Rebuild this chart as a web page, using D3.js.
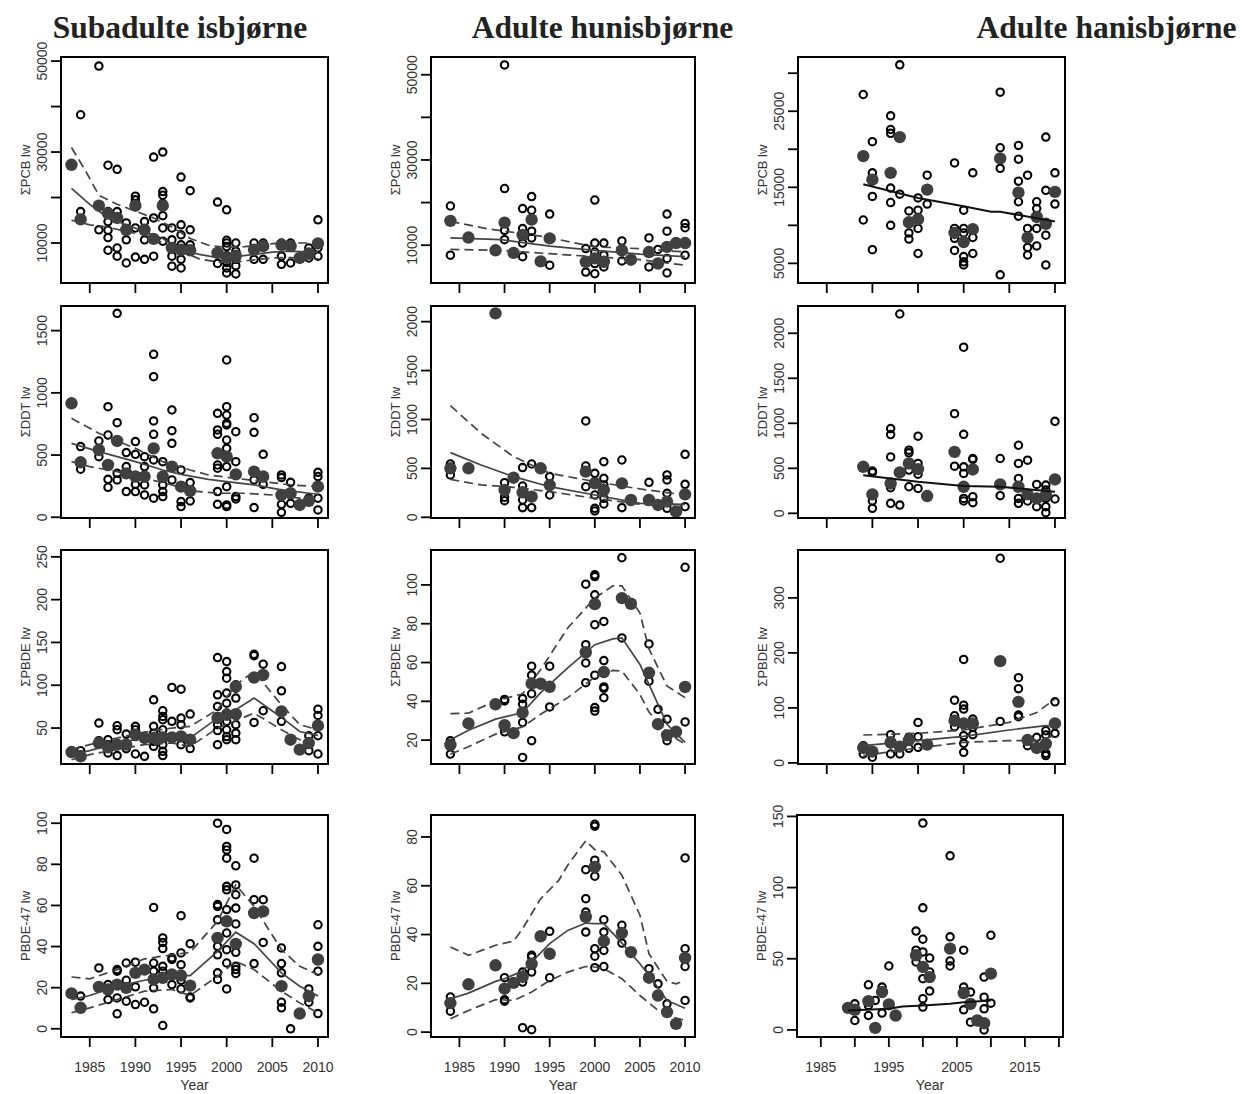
<!DOCTYPE html>
<html><head><meta charset="utf-8">
<script src="https://cdn.jsdelivr.net/npm/d3@7"></script>
<style>body{margin:0;background:#fff}svg{display:block}</style>
</head><body>
<svg id="c" width="1243" height="1094"></svg>
<script>
// ---------- column titles / axis labels ----------
const colTitles = ["Subadulte isbjørne", "Adulte hunisbjørne", "Adulte hanisbjørne"];
const rowLabels = ["ΣPCB lw", "ΣDDT lw", "ΣPBDE lw", "PBDE-47 lw"];
const xTickYears = [1985, 1990, 1995, 2000, 2005, 2010];
const xTickYearsWide = [1985, 1990, 1995, 2000, 2005, 2010, 2015, 2020];
const xLabelYearsWide = [1985, 1995, 2005, 2015];

// ---------- Row 1: ΣPCB ----------
const pcbSubOpen = [[1984,38200],[1984,16900],[1986,48900],[1986,12900],[1987,27100],[1987,16900],[1987,14700],[1987,12800],[1987,11200],[1987,8400],[1988,26200],[1988,16900],[1988,8900],[1988,7100],[1989,14400],[1989,10700],[1989,5600],[1990,20300],[1990,19500],[1990,13300],[1990,6900],[1991,14700],[1991,10700],[1991,6400],[1992,28900],[1992,15500],[1992,7100],[1993,30000],[1993,21300],[1993,20500],[1993,18700],[1993,16000],[1993,13300],[1993,10400],[1994,13300],[1994,10700],[1994,7100],[1994,4900],[1995,24500],[1995,14000],[1995,11800],[1995,9600],[1995,6400],[1995,4500],[1996,21500],[1996,12900],[1996,9600],[1996,8200],[1999,19000],[1999,8000],[1999,5500],[2000,17300],[2000,10600],[2000,10000],[2000,9200],[2000,7200],[2000,5700],[2000,4500],[2000,3400],[2001,10000],[2001,8200],[2001,6400],[2001,5000],[2001,3200],[2003,10000],[2003,8400],[2003,6400],[2004,10000],[2004,6400],[2006,10000],[2006,7100],[2006,5300],[2007,10000],[2007,5600],[2009,8900],[2009,6700],[2010,15100],[2010,8900],[2010,7100]];
const pcbSubFill = [[1983,27200],[1984,15200],[1986,18200],[1987,16500],[1988,15500],[1989,12900],[1990,18200],[1991,12900],[1992,10900],[1993,18200],[1994,8900],[1995,8500],[1996,8400],[1999,7800],[2000,6700],[2001,7200],[2003,8500],[2004,9300],[2006,9600],[2007,9300],[2008,6700],[2009,7700],[2010,9900]];
const pcbSubFit = [[1983,22000],[1985,18500],[1987,15500],[1989,14000],[1991,12500],[1993,11000],[1995,8500],[1997,7500],[1999,6800],[2001,7000],[2003,7500],[2005,8000],[2007,8200],[2009,8000],[2010,8000]];
const pcbSubUp = [[1983,31000],[1984.5,26000],[1986,20500],[1988,18500],[1990,17000],[1992,15500],[1994,13500],[1996,11000],[1998,9500],[2000,9000],[2002,9200],[2004,9700],[2006,10000],[2008,10000],[2010,10000]];
const pcbSubLo = [[1983,15000],[1985,14000],[1987,13500],[1989,12500],[1991,11800],[1993,10000],[1995,8200],[1997,6500],[1999,5800],[2001,5800],[2003,6300],[2005,6700],[2007,6800],[2009,6500],[2010,6500]];

const pcbFemOpen = [[1984,19200],[1984,7650],[1990,52300],[1990,23300],[1990,13500],[1990,11300],[1992,18600],[1992,13900],[1992,10500],[1992,7300],[1993,21400],[1993,18200],[1993,13300],[1993,11700],[1995,17300],[1995,5300],[1999,9200],[1999,6100],[1999,3700],[2000,20600],[2000,10500],[2000,8400],[2000,5700],[2000,3300],[2001,10500],[2001,7650],[2001,4900],[2003,11000],[2003,6300],[2006,11700],[2006,4900],[2007,9000],[2008,17300],[2008,13300],[2008,9600],[2008,6900],[2008,3500],[2010,15100],[2010,14100],[2010,7650]];
const pcbFemFill = [[1984,15700],[1986,11800],[1989,8800],[1990,15300],[1991,8200],[1992,12400],[1993,16000],[1994,6200],[1995,11600],[1999,6100],[2000,6900],[2001,6100],[2003,8800],[2004,6600],[2006,8400],[2007,5700],[2008,9600],[2009,10500],[2010,10500]];
const pcbFemFit = [[1984,11700],[1989.6,11300],[1995,9800],[2000,8800],[2005,7900],[2010,7300]];
const pcbFemUp = [[1984,15600],[1988,13900],[1994.4,12000],[2000,9600],[2005,9200],[2010,8400]];
const pcbFemLo = [[1984,9000],[1989.6,8800],[1995,8000],[2000,7300],[2005,6600],[2010,5300]];

const pcbMalOpen = [[1989,27200],[1989,10700],[1990,21000],[1990,16900],[1990,13800],[1990,6800],[1992,24400],[1992,22600],[1992,22100],[1992,14900],[1992,13000],[1992,10000],[1993,31100],[1993,14100],[1994,11900],[1994,9000],[1994,8200],[1995,13600],[1995,12000],[1995,9600],[1995,6300],[1996,16600],[1996,12800],[1999,18200],[1999,9600],[1999,8300],[1999,6700],[2000,12000],[2000,9600],[2000,9000],[2000,5900],[2000,5200],[2000,4800],[2001,16900],[2001,8400],[2001,6300],[2004,27500],[2004,20200],[2004,17500],[2004,3500],[2006,20500],[2006,18700],[2006,15800],[2006,13100],[2006,11200],[2007,16600],[2007,9600],[2007,7100],[2007,6100],[2008,13100],[2008,12200],[2008,9600],[2008,7300],[2009,21600],[2009,14600],[2009,8700],[2009,4800],[2010,16900],[2010,12800]];
const pcbMalFill = [[1989,19100],[1990,16000],[1992,16900],[1993,21600],[1994,10400],[1995,10800],[1996,14700],[1999,9000],[2000,7800],[2001,9500],[2004,18800],[2006,14300],[2007,8400],[2008,11100],[2009,10200],[2010,14400]];
const pcbMalFit = [[1989,15400],[1995,13600],[2000,12500],[2003,11800],[2004,11800],[2010,10500]];

// ---------- Row 2: ΣDDT ----------
const ddtSubOpen = [[1984,568],[1984,386],[1986,613],[1986,487],[1987,889],[1987,661],[1987,305],[1987,241],[1988,1639],[1988,760],[1988,353],[1988,300],[1989,520],[1989,407],[1989,206],[1990,608],[1990,506],[1990,265],[1990,206],[1991,487],[1991,407],[1991,260],[1991,179],[1992,1310],[1992,1130],[1992,774],[1992,667],[1992,461],[1992,153],[1993,447],[1993,313],[1993,260],[1993,206],[1993,166],[1994,862],[1994,696],[1994,594],[1994,300],[1995,380],[1995,126],[1995,86],[1996,279],[1996,131],[1999,835],[1999,702],[1999,667],[1999,420],[1999,394],[1999,206],[1999,104],[2000,1264],[2000,889],[2000,822],[2000,755],[2000,742],[2000,621],[2000,554],[2000,407],[2000,246],[2000,99],[2000,86],[2001,688],[2001,447],[2001,166],[2001,147],[2003,800],[2003,683],[2003,300],[2003,78],[2004,506],[2004,265],[2006,340],[2006,319],[2006,104],[2006,40],[2007,281],[2007,112],[2009,153],[2010,361],[2010,327],[2010,153],[2010,59]];
const ddtSubFill = [[1983,916],[1984,442],[1986,541],[1987,420],[1988,613],[1989,353],[1990,327],[1991,327],[1992,554],[1993,327],[1994,407],[1995,246],[1996,212],[1999,514],[2000,487],[2001,345],[2003,367],[2004,327],[2006,179],[2007,193],[2008,99],[2009,131],[2010,246]];
const ddtSubFit = [[1983,594],[1986,528],[1990,447],[1993,380],[1995,345],[1998,305],[2000,287],[2003,260],[2006,220],[2010,185]];
const ddtSubUp = [[1983,795],[1986,675],[1990,554],[1993,447],[1996,380],[1998,340],[2001,313],[2004,287],[2007,260],[2010,246]];
const ddtSubLo = [[1983,447],[1985,407],[1988,367],[1991,313],[1994,260],[1996,212],[1999,193],[2002,193],[2005,179],[2008,153],[2010,153]];

const ddtFemOpen = [[1984,545],[1984,433],[1990,354],[1990,204],[1990,170],[1992,508],[1992,320],[1992,177],[1992,99],[1993,545],[1993,99],[1995,416],[1995,228],[1999,985],[1999,525],[1999,474],[1999,313],[2000,450],[2000,365],[2000,228],[2000,92],[2000,65],[2001,569],[2001,399],[2001,331],[2001,194],[2001,136],[2003,586],[2003,99],[2006,358],[2008,433],[2008,382],[2008,245],[2008,92],[2010,644],[2010,337],[2010,109]];
const ddtFemFill = [[1984,501],[1986,501],[1989,2085],[1990,279],[1991,405],[1992,256],[1993,211],[1994,501],[1995,330],[1999,467],[2000,347],[2001,279],[2003,347],[2004,177],[2006,177],[2007,126],[2008,160],[2009,58],[2010,235]];
const ddtFemFit = [[1984,661],[1987.4,535],[1991,416],[1995,313],[2000,228],[2005,143],[2010,133]];
const ddtFemUp = [[1984,1141],[1987.4,859],[1991,620],[1995,450],[2000,365],[2005,290],[2010,228]];
const ddtFemLo = [[1984,388],[1987.4,331],[1991,307],[1995,262],[2000,194],[2005,133],[2010,109]];

const ddtMalOpen = [[1990,469],[1990,454],[1990,137],[1990,55],[1992,941],[1992,875],[1992,627],[1992,284],[1992,111],[1993,2214],[1993,92],[1994,701],[1994,672],[1994,480],[1994,295],[1995,856],[1995,554],[1995,435],[1995,277],[1999,1107],[1999,524],[2000,1845],[2000,878],[2000,517],[2000,443],[2000,166],[2000,137],[2001,609],[2001,598],[2001,185],[2001,118],[2004,609],[2004,196],[2006,756],[2006,554],[2006,387],[2006,166],[2006,111],[2007,590],[2007,137],[2008,321],[2008,74],[2009,314],[2009,258],[2009,166],[2009,74],[2009,7],[2010,1022],[2010,159]];
const ddtMalFill = [[1989,517],[1990,210],[1992,332],[1993,454],[1994,554],[1995,491],[1996,192],[1999,683],[2000,295],[2001,487],[2004,321],[2006,295],[2007,210],[2008,166],[2009,203],[2010,376]];
const ddtMalFit = [[1989,424],[1995,350],[2000,303],[2004,295],[2010,240]];

// ---------- Row 3: ΣPBDE ----------
const pbdeSubOpen = [[1984,23.6],[1984,18.9],[1986,55.8],[1986,35.2],[1987,36.4],[1987,30.6],[1987,20.9],[1988,52.7],[1988,48.1],[1988,17.8],[1989,43],[1989,32.5],[1989,25.9],[1990,52],[1990,48],[1990,40],[1990,19.7],[1991,40],[1991,17],[1992,83],[1992,52],[1992,44],[1992,34.5],[1992,28.6],[1993,70.2],[1993,63.6],[1993,59.7],[1993,48],[1993,38],[1993,30.6],[1993,22.8],[1993,17.8],[1994,97.4],[1994,57.8],[1994,38],[1995,95.4],[1995,61.6],[1995,53.9],[1995,30.6],[1996,66.3],[1996,26],[1999,132.3],[1999,88.8],[1999,75.2],[1999,63.6],[1999,53.9],[1999,47],[1999,30.6],[2000,127.7],[2000,116],[2000,108.2],[2000,90.8],[2000,79],[2000,67.5],[2000,57.8],[2000,48],[2000,40],[2000,36.4],[2001,100.5],[2001,96.6],[2001,85],[2001,65.5],[2001,53.9],[2001,44],[2001,36.4],[2003,136.2],[2003,134.6],[2003,56.6],[2004,124.6],[2004,70.2],[2006,121.8],[2006,93.5],[2006,57.8],[2009,41],[2009,23.6],[2010,72],[2010,64.8],[2010,41],[2010,19.7]];
const pbdeSubFill = [[1983,22],[1984,17],[1986,32.5],[1987,27.5],[1988,30.6],[1989,30.6],[1990,42.2],[1991,38.4],[1992,38.4],[1993,39.1],[1994,39.1],[1995,40.3],[1996,36.4],[1999,61.6],[2000,65.5],[2001,66.3],[2001,98.5],[2003,109],[2004,112],[2006,69.4],[2007,36.4],[2008,24.8],[2009,32.5],[2010,52.7]];
const pbdeSubFit = [[1983,19],[1985,23.6],[1988,32.5],[1991,38.4],[1994,40.3],[1996,38.4],[1999,61.6],[2001,71.4],[2003,85],[2006,62.4],[2008,46],[2010,41.5]];
const pbdeSubUp = [[1983,25],[1985,30.6],[1988,38.4],[1991,45.3],[1994,50],[1996,52],[1999,71.4],[2001,100.5],[2003,116],[2006,77],[2008,54],[2010,48]];
const pbdeSubLo = [[1983,13],[1985,19],[1988,25],[1991,30.6],[1994,32.5],[1996,28.6],[1999,50],[2001,58.5],[2003,67.5],[2006,48],[2008,36.4],[2010,31.4]];

const pbdeFemOpen = [[1984,19.7],[1984,17.1],[1984,12.8],[1990,41],[1990,40.2],[1990,24.3],[1992,41.4],[1992,38.5],[1992,29.1],[1992,11.1],[1993,58.1],[1993,53.5],[1993,43.9],[1993,19.7],[1995,58.1],[1995,37.1],[1999,100.4],[1999,69.2],[1999,59.8],[1999,49.6],[2000,105.2],[2000,104.3],[2000,94.9],[2000,79.5],[2000,53.5],[2000,36.8],[2000,35],[2001,81.2],[2001,61],[2001,47.4],[2001,46.7],[2001,41.9],[2003,114],[2003,72.7],[2006,69.6],[2006,50.4],[2007,35.9],[2008,30.8],[2008,19.7],[2010,109.1],[2010,29.4]];
const pbdeFemFill = [[1984,17.6],[1986,28.6],[1989,38.5],[1990,27.7],[1991,23.6],[1992,34.2],[1993,49.1],[1994,49.1],[1995,47.5],[1999,65.3],[2000,90.1],[2001,55.1],[2003,93.2],[2004,90.3],[2006,54.7],[2007,28.2],[2008,22.6],[2009,24.3],[2010,47.4]];
const pbdeFemFit = [[1984,20.2],[1986,25.1],[1989,30.8],[1992,34.2],[1994,44.5],[1997,57.3],[2000,69.2],[2002,72.2],[2003,72.7],[2005,59],[2006,48.7],[2008,28.2],[2010,18.8]];
const pbdeFemUp = [[1984,33.7],[1986,33.9],[1989,40.2],[1992,43.9],[1994,56.4],[1997,77.8],[2000,93.2],[2002,99.5],[2003,99.5],[2005,85.5],[2006,67],[2008,47.9],[2010,41.9]];
const pbdeFemLo = [[1984,12.8],[1986,16.6],[1989,23.1],[1992,26.8],[1994,33.3],[1997,41.9],[2000,52.5],[2002,55.9],[2003,55.6],[2005,43.6],[2006,34.5],[2008,23.9],[2010,17.9]];

const pbdeMalOpen = [[1989,31.4],[1989,16.3],[1990,10.3],[1992,51.3],[1992,34.4],[1992,16.3],[1993,16.3],[1994,46.5],[1994,26.6],[1995,73.6],[1995,47.7],[1995,28.4],[1999,114],[1999,85.7],[1999,65.8],[2000,188],[2000,105],[2000,97.8],[2000,49.5],[2000,35.6],[2000,19.3],[2001,79.7],[2001,64.6],[2001,51.3],[2004,372],[2004,75.4],[2006,155],[2006,135],[2006,86.9],[2006,83.9],[2007,31.4],[2008,46.5],[2008,28.4],[2009,58.5],[2009,50.7],[2009,17.5],[2009,13.3],[2010,111],[2010,53.7]];
const pbdeMalFill = [[1989,27.2],[1990,20.5],[1992,37.4],[1993,29.6],[1994,41.6],[1996,33.2],[1999,76.7],[2000,71.8],[2001,71.8],[2004,185],[2006,111],[2007,41.6],[2008,27.2],[2009,34.4],[2010,71.8]];
const pbdeMalFit = [[1989,31.4],[1995,40.4],[2000,48.3],[2005,59.8],[2009,67.6],[2010,67.6]];
const pbdeMalUp = [[1989,50.7],[1995,53.7],[2000,59.8],[2005,73.6],[2008,91.7],[2010,116]];
const pbdeMalLo = [[1989,13.3],[1995,27.2],[2000,37.4],[2005,40.4],[2008,40.4],[2010,49.5]];

// ---------- Row 4: PBDE-47 ----------
const bde47SubOpen = [[1984,15.9],[1986,29.6],[1987,21.5],[1987,14.2],[1988,28.8],[1988,28],[1988,15],[1988,7.3],[1989,32],[1989,23.6],[1989,13.4],[1990,32.4],[1990,20.4],[1990,11.8],[1991,28.8],[1991,12.9],[1992,59],[1992,32],[1992,28],[1992,19.9],[1992,9.7],[1993,44.2],[1993,42],[1993,39],[1993,30.4],[1993,28],[1993,1.6],[1994,34.5],[1994,33.7],[1994,21.5],[1995,55],[1995,36.9],[1995,31.2],[1995,23.6],[1995,19.4],[1996,41.4],[1996,15.4],[1996,15],[1999,100],[1999,60.4],[1999,59.5],[1999,53],[1999,40.1],[1999,36],[1999,27.2],[1999,24],[2000,97],[2000,88.7],[2000,87],[2000,83],[2000,69.3],[2000,67.6],[2000,58],[2000,46.6],[2000,38.5],[2000,32],[2000,19.4],[2001,79.3],[2001,70],[2001,65.2],[2001,58.7],[2001,51],[2001,37.2],[2001,30.4],[2001,28.8],[2001,26.9],[2003,83],[2003,62.8],[2003,31.7],[2004,62.8],[2004,42],[2006,39.3],[2006,31.7],[2006,27.2],[2006,12.9],[2006,10.2],[2007,0],[2009,19.4],[2009,12.9],[2010,50.6],[2010,40.1],[2010,28],[2010,7.4]];
const bde47SubFill = [[1983,17.2],[1984,10.2],[1986,20.4],[1987,19.1],[1988,21.5],[1989,19.9],[1990,27.2],[1991,28.8],[1992,24],[1993,24.8],[1994,26.4],[1995,25.9],[1996,21],[1999,44.2],[2000,52.3],[2001,41.3],[2003,56.3],[2004,57.1],[2006,20.7],[2008,7.4],[2009,15.9],[2010,33.7]];
const bde47SubFit = [[1983,14.2],[1985,16.2],[1988,20.7],[1991,23.6],[1994,25.9],[1996,25.9],[1999,37.7],[2001,47],[2003,41.4],[2006,27.2],[2008,20.7],[2010,15.9]];
const bde47SubUp = [[1983,25.2],[1985,24.3],[1988,28.8],[1991,34],[1994,36],[1996,37.2],[1999,52.3],[2001,70],[2003,59.5],[2006,38.5],[2008,30.4],[2010,26.4]];
const bde47SubLo = [[1983,7.8],[1985,10.2],[1988,14.2],[1991,18.3],[1994,19.1],[1996,16.2],[1999,25.6],[2001,32.8],[2003,28.8],[2006,18.3],[2008,12.6],[2010,7.8]];

const bde47FemOpen = [[1984,14.4],[1984,8.6],[1990,22.3],[1990,13.3],[1990,12.7],[1992,24.6],[1992,20.5],[1992,1.8],[1993,31.5],[1993,30.8],[1993,24.6],[1993,1],[1995,41.3],[1995,22.3],[1999,66.6],[1999,54.7],[1999,49.2],[1999,47.5],[1999,41],[2000,85.2],[2000,84.4],[2000,70.5],[2000,67.7],[2000,63.9],[2000,34.2],[2000,31.1],[2000,26.4],[2001,46.1],[2001,41],[2001,33.5],[2001,26.9],[2003,43.8],[2003,36.5],[2006,26],[2007,19.8],[2008,11.6],[2010,71.4],[2010,34.2],[2010,26.9],[2010,13]];
const bde47FemFill = [[1984,11.9],[1986,19.6],[1989,27.4],[1990,17.8],[1991,20.2],[1992,22.6],[1993,28],[1994,39.3],[1995,32.1],[1999,47.2],[2000,67.7],[2001,37.3],[2003,40.6],[2004,32.8],[2006,22.3],[2007,15],[2008,8.2],[2009,3.4],[2010,30.4]];
const bde47FemFit = [[1984,13.7],[1986,16],[1989,20.8],[1990,21.9],[1992,25],[1993,28.7],[1995,36.3],[1997,41.7],[1999,44.7],[2000,44.5],[2001,44.5],[2003,36.5],[2005,28],[2006,23.3],[2008,13],[2010,9.8]];
const bde47FemUp = [[1984,34.9],[1986,31.5],[1989,35.6],[1991,37.3],[1992,42.4],[1994,54.7],[1996,62.2],[1997,68.4],[1999,78.4],[2000,74.8],[2001,73.9],[2003,64.3],[2005,47.9],[2006,32.1],[2008,20.8],[2009,19.8],[2010,21.2]];
const bde47FemLo = [[1984,5.5],[1986,8.9],[1989,13.3],[1991,13],[1993,16.4],[1995,21.2],[1997,24.6],[1999,26.9],[2000,26.7],[2001,26],[2003,21.9],[2005,15],[2007,8.9],[2008,6.8],[2010,4.8]];

const bde47MalOpen = [[1990,18.3],[1990,6.6],[1992,31.7],[1992,17.2],[1992,10.1],[1993,20.7],[1994,30.1],[1994,11.8],[1995,44.9],[1999,69.4],[1999,56],[1999,47.7],[2000,145.3],[2000,85.8],[2000,63.7],[2000,54.8],[2000,36],[2000,21.9],[2000,16],[2001,50.5],[2001,40.7],[2001,27.3],[2004,122.3],[2004,65.4],[2004,48.4],[2004,44.9],[2006,56],[2006,30.1],[2006,14.1],[2007,26.6],[2007,5.4],[2009,37.1],[2009,23],[2009,14.8],[2009,0],[2010,66.5],[2010,18.8]];
const bde47MalFill = [[1989,15.5],[1990,14.1],[1992,20.2],[1993,1.4],[1994,26.6],[1995,17.9],[1996,10.1],[1999,52.4],[2000,44.2],[2001,37.1],[2004,57.1],[2006,25.9],[2007,18.3],[2008,6.6],[2009,4.7],[2010,39.5]];
const bde47MalFit = [[1989,13.6],[1995,14.8],[1997,16.5],[2000,17.2],[2004,18.3],[2006,19.5],[2010,20.7]];

// ---------- layout ----------
const colX = [[61,328],[431,695],[798,1065]];
const rowY = [[57,283],[306,518],[550,764],[815,1037]];

const panels = [
  {r:0,c:0,open:pcbSubOpen,fill:pcbSubFill,fit:pcbSubFit,up:pcbSubUp,lo:pcbSubLo,yd:[1200,50900],yt:[10000,20000,30000,40000,50000],yl:[10000,30000,50000]},
  {r:0,c:1,open:pcbFemOpen,fill:pcbFemFill,fit:pcbFemFit,up:pcbFemUp,lo:pcbFemLo,yd:[1130,54160],yt:[10000,20000,30000,40000,50000],yl:[10000,30000,50000]},
  {r:0,c:2,open:pcbMalOpen,fill:pcbMalFill,fit:pcbMalFit,yd:[2420,32130],yt:[5000,10000,15000,20000,25000,30000],yl:[5000,15000,25000],black:true},
  {r:1,c:0,open:ddtSubOpen,fill:ddtSubFill,fit:ddtSubFit,up:ddtSubUp,lo:ddtSubLo,yd:[-6,1698],yt:[0,500,1000,1500],yl:[0,500,1000,1500]},
  {r:1,c:1,open:ddtFemOpen,fill:ddtFemFill,fit:ddtFemFit,up:ddtFemUp,lo:ddtFemLo,yd:[-7,2160],yt:[0,500,1000,1500,2000],yl:[0,500,1000,1500,2000]},
  {r:1,c:2,open:ddtMalOpen,fill:ddtMalFill,fit:ddtMalFit,yd:[-52,2303],yt:[0,500,1000,1500,2000],yl:[0,500,1000,1500,2000],black:true},
  {r:2,c:0,open:pbdeSubOpen,fill:pbdeSubFill,fit:pbdeSubFit,up:pbdeSubUp,lo:pbdeSubLo,yd:[8,258],yt:[50,100,150,200,250],yl:[50,100,150,200,250]},
  {r:2,c:1,open:pbdeFemOpen,fill:pbdeFemFill,fit:pbdeFemFit,up:pbdeFemUp,lo:pbdeFemLo,yd:[7.7,118],yt:[20,40,60,80,100],yl:[20,40,60,80,100]},
  {r:2,c:2,open:pbdeMalOpen,fill:pbdeMalFill,fit:pbdeMalFit,up:pbdeMalUp,lo:pbdeMalLo,yd:[-2,387],yt:[0,100,200,300],yl:[0,100,200,300]},
  {r:3,c:0,open:bde47SubOpen,fill:bde47SubFill,fit:bde47SubFit,up:bde47SubUp,lo:bde47SubLo,yd:[-4,104],yt:[0,20,40,60,80,100],yl:[0,20,40,60,80,100]},
  {r:3,c:1,open:bde47FemOpen,fill:bde47FemFill,fit:bde47FemFit,up:bde47FemUp,lo:bde47FemLo,yd:[-2,89],yt:[0,20,40,60,80],yl:[0,20,40,60,80]},
  {r:3,c:2,open:bde47MalOpen,fill:bde47MalFill,fit:bde47MalFit,yd:[-5,151],yt:[0,50,100,150],yl:[0,50,100,150],wide:true,black:true}
];

const svg = d3.select("#c");
const FONT = "'Liberation Sans', Arial, sans-serif";
const TXT = "#333";

panels.forEach(p => {
  const xr = p.wide ? [797,1063] : colX[p.c];
  const yr = rowY[p.r];
  const xd = p.wide ? [1981.5,2020.6] : [1981.85,2011.1];
  const x = d3.scaleLinear().domain(xd).range(xr);
  const y = d3.scaleLinear().domain(p.yd).range([yr[1], yr[0]]);
  const g = svg.append("g");

  // points
  g.selectAll("circle.o").data(p.open).join("circle")
    .attr("cx", d => x(d[0])).attr("cy", d => y(d[1])).attr("r", 3.7)
    .attr("fill", "none").attr("stroke", "#000").attr("stroke-width", 2.1);
  g.selectAll("circle.f").data(p.fill).join("circle")
    .attr("cx", d => x(d[0])).attr("cy", d => y(d[1])).attr("r", 6.2)
    .attr("fill", "#3f3f3f");

  const line = d3.line().x(d => x(d[0])).y(d => y(d[1]));
  if (p.up) g.append("path").attr("d", line(p.up)).attr("fill","none").attr("stroke","#444").attr("stroke-width",1.7).attr("stroke-dasharray","9,5");
  if (p.lo) g.append("path").attr("d", line(p.lo)).attr("fill","none").attr("stroke","#444").attr("stroke-width",1.7).attr("stroke-dasharray","9,5");
  g.append("path").attr("d", line(p.fit)).attr("fill","none")
    .attr("stroke", p.black ? "#111" : "#444").attr("stroke-width", p.black ? 2 : 1.7);

  // box
  g.append("rect").attr("x", xr[0]).attr("y", yr[0]).attr("width", xr[1]-xr[0]).attr("height", yr[1]-yr[0])
    .attr("fill","none").attr("stroke","#000").attr("stroke-width",2);

  // x axis ticks
  const xt = p.wide ? xTickYearsWide : xTickYears;
  g.selectAll("line.xt").data(xt).join("line")
    .attr("x1", d => x(d)).attr("x2", d => x(d)).attr("y1", yr[1]).attr("y2", yr[1]+10)
    .attr("stroke","#000").attr("stroke-width",1.8);
  if (p.r === 3) {
    const xl = p.wide ? xLabelYearsWide : xTickYears;
    g.selectAll("text.xl").data(xl).join("text")
      .attr("x", d => x(d)).attr("y", yr[1]+35).attr("text-anchor","middle")
      .attr("font-family", FONT).attr("font-size", 14).attr("fill", TXT).text(d => d);
    g.append("text").attr("x", (xr[0]+xr[1])/2).attr("y", 1090).attr("text-anchor","middle")
      .attr("font-family", FONT).attr("font-size", 14).attr("fill", TXT).text("Year");
  }

  // y axis ticks
  g.selectAll("line.yt").data(p.yt).join("line")
    .attr("x1", xr[0]-10).attr("x2", xr[0]).attr("y1", d => y(d)).attr("y2", d => y(d))
    .attr("stroke","#000").attr("stroke-width",1.8);
  g.selectAll("text.yl").data(p.yl).join("text")
    .attr("transform", d => `translate(${xr[0]-19.5},${y(d)}) rotate(-90)`)
    .attr("dy","0.36em").attr("text-anchor","middle")
    .attr("font-family", FONT).attr("font-size", 14).attr("fill", TXT).text(d => d);

  // y title
  g.append("text")
    .attr("transform", `translate(${xr[0]-36},${(yr[0]+yr[1])/2}) rotate(-90)`)
    .attr("dy","0.36em").attr("text-anchor","middle")
    .attr("font-family", FONT).attr("font-size", 13).attr("fill", TXT).text(rowLabels[p.r]);
});

// column titles
const titleX = [180, 602.5, 1106.5];
colTitles.forEach((t, i) => {
  svg.append("text").attr("x", titleX[i]).attr("y", 38).attr("text-anchor","middle")
    .attr("font-family","'Liberation Serif','Times New Roman',serif").attr("font-weight","bold")
    .attr("font-size", 31.5).attr("fill","#222").text(t);
});
</script>
</body></html>
